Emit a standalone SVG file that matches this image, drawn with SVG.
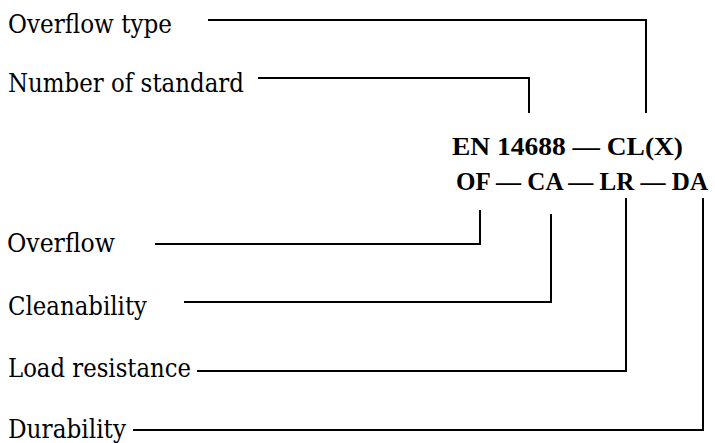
<svg xmlns="http://www.w3.org/2000/svg" width="715" height="443" viewBox="0 0 715 443">
  <style>
    .lbl { font-family: "DejaVu Serif", "Liberation Serif", serif; font-size: 26px; fill: #000; }
    .code { font-family: "Liberation Serif", "DejaVu Serif", serif; font-size: 25px; font-weight: bold; fill: #000; }
    .conn { fill: none; stroke: #000; stroke-width: 2; }
  </style>
  <rect width="715" height="443" fill="#fff"/>

  <!-- designation code -->
  <g id="code">
    <text class="code" x="452" y="155" textLength="231" lengthAdjust="spacingAndGlyphs">EN 14688 — CL(X)</text>
    <text class="code" x="456" y="190" textLength="252" lengthAdjust="spacingAndGlyphs">OF — CA — LR — DA</text>
  </g>

  <!-- labels -->
  <g id="overflow-type">
    <text class="lbl" x="8" y="33" textLength="164" lengthAdjust="spacingAndGlyphs">Overflow type</text>
  </g>
  <g id="number-of-standard">
    <text class="lbl" x="8" y="92" textLength="236" lengthAdjust="spacingAndGlyphs">Number of standard</text>
  </g>
  <g id="overflow">
    <text class="lbl" x="7" y="252" textLength="108" lengthAdjust="spacingAndGlyphs">Overflow</text>
  </g>
  <g id="cleanability">
    <text class="lbl" x="8" y="315" textLength="139" lengthAdjust="spacingAndGlyphs">Cleanability</text>
  </g>
  <g id="load-resistance">
    <text class="lbl" x="8" y="377" textLength="183" lengthAdjust="spacingAndGlyphs">Load resistance</text>
  </g>
  <g id="durability">
    <text class="lbl" x="8" y="438" textLength="118" lengthAdjust="spacingAndGlyphs">Durability</text>
  </g>

  <!-- leader lines -->
  <g id="connectors">
    <polyline class="conn" points="208,20 646,20 646,113"/>
    <polyline class="conn" points="258,78 529,78 529,113"/>
    <polyline class="conn" points="155,244 480,244 480,210"/>
    <polyline class="conn" points="184,302 551,302 551,214"/>
    <polyline class="conn" points="197,371 626,371 626,198"/>
    <polyline class="conn" points="133,430 703,430 703,198"/>
  </g>
</svg>
